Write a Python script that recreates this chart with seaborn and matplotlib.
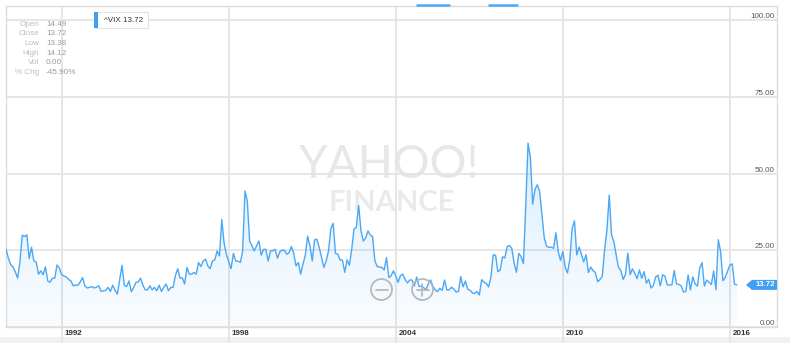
import numpy as np
import pandas as pd
import matplotlib
matplotlib.use("Agg")
import matplotlib.pyplot as plt
import matplotlib.transforms as mtransforms
from matplotlib.patches import Rectangle, Ellipse, Polygon
from matplotlib.lines import Line2D
import seaborn as sns

# ---------------- data (monthly closes of ^VIX) ----------------
vix_1990s = [
    25.36, 22.5, 20.3, 19.6, 18.0, 15.9, 21.0, 29.9, 29.5, 30.0, 22.3, 26.0,
    21.5, 21.2, 17.2, 18.3, 17.0, 19.6, 15.0, 14.6, 15.9, 15.9, 20.2, 19.2,
    17.0, 16.6, 16.3, 15.5, 15.0, 13.4, 13.7, 13.6, 14.7, 16.1, 13.4, 12.7,
    12.9, 13.2, 12.7, 13.0, 13.4, 11.6, 11.8, 11.9, 12.9, 11.6, 13.6, 12.0,
    10.7, 15.3, 20.1, 13.6, 13.2, 15.0, 11.5, 12.9, 14.5, 14.7, 15.9, 13.6,
    12.1, 12.1, 13.4, 12.1, 12.9, 11.8, 13.6, 11.6, 12.9, 14.0, 11.8, 12.9,
    12.9, 16.7, 19.0, 15.9, 16.0, 14.0, 19.4, 17.2, 17.2, 17.8, 17.2, 21.0,
    19.7, 21.5, 22.1, 19.9, 19.0, 21.5, 21.9, 24.8, 23.1, 35.0, 27.3, 23.7,
    21.2, 19.0, 24.0, 21.5, 21.5, 21.0, 24.8, 44.3, 41.0, 28.0, 26.4, 24.8,
    26.4, 28.0, 23.4, 25.3, 25.3, 21.5, 24.8, 24.8, 25.3, 22.4, 24.5, 25.0,
]
vix_2000s = [
    25.0, 23.7, 24.2, 26.2, 24.0, 19.9, 21.0, 17.2, 20.5, 23.4, 29.6, 26.4,
    21.5, 28.4, 28.6, 25.9, 22.6, 19.4, 21.5, 24.8, 32.0, 33.8, 24.0, 23.7,
    21.8, 21.8, 17.8, 21.9, 20.1, 25.3, 32.0, 32.4, 39.6, 31.3, 28.0, 29.0,
    31.3, 30.0, 29.4, 21.5, 19.7, 19.5, 19.4, 18.6, 22.6, 16.1, 16.7, 18.3,
    16.63, 14.55, 16.74, 17.19, 15.50, 14.34, 15.32, 15.29, 13.34, 16.27, 13.24, 13.29,
    12.82, 12.08, 14.02, 15.31, 13.29, 12.04, 11.57, 12.60, 11.92, 15.32, 12.06, 12.07,
    12.95, 12.34, 11.39, 11.59, 16.44, 13.08, 14.95, 12.31, 11.98, 11.10, 10.91, 11.56,
    10.42, 15.42, 14.64, 14.22, 13.05, 16.23, 23.52, 23.38, 18.00, 18.53, 22.87, 22.50,
    26.20, 26.54, 25.61, 20.79, 17.83, 23.95, 22.94, 20.65, 39.39, 59.89, 55.28, 40.00,
    44.84, 46.35, 44.14, 36.50, 28.92, 26.35, 25.92, 26.01, 25.61, 30.69, 24.51, 21.68,
]
vix_2010s = [
    24.62, 19.50, 17.59, 22.05, 32.07, 34.54, 23.50, 26.05, 23.70, 21.20, 23.54, 17.75,
    19.53, 18.35, 17.74, 14.75, 15.45, 16.52, 25.25, 31.62, 42.96, 29.96, 27.80, 23.40,
    19.44, 18.43, 15.50, 17.15, 24.06, 17.08, 18.93, 17.47, 15.73, 18.60, 15.87, 18.02,
    14.28, 15.51, 12.70, 13.52, 16.30, 16.86, 13.45, 17.01, 16.60, 13.75, 13.70, 13.72,
    18.41, 14.00, 13.88, 13.41, 11.40, 11.57, 16.95, 12.09, 16.31, 14.03, 13.33, 19.20,
    20.97, 13.34, 15.29, 14.55, 13.84, 18.23, 12.12, 28.43, 24.50, 15.07, 16.13, 18.21,
    20.20, 20.55, 13.95, 13.72,
]
start_month = "1990-01"
year_ticks = [1992, 1998, 2004, 2010, 2016]
value_ticks = [0, 25, 50, 75, 100]
ticker = "^VIX"
last_value = 13.72
quote_labels = ["Open", "Close", "Low", "High", "Vol", "% Chg"]
quote_values = ["14.49", "13.72", "13.38", "14.12", "0.00", "-45.90%"]

values = vix_1990s + vix_2000s + vix_2010s
dates = pd.date_range(start_month, periods=len(values), freq="MS")
df = pd.DataFrame({"year": dates.year + (dates.month - 1) / 12.0, "close": values})

# ---------------- style ----------------
sns.set_theme(style="white")
plt.rcParams["font.family"] = ["Liberation Sans", "DejaVu Sans"]

LINE = "#4aa8f5"
GRID = "#e4e4e4"
W, H = 790, 343
fig = plt.figure(figsize=(W / 100, H / 100), dpi=100)
fig.patch.set_facecolor("white")


def fx(px):
    return px / W


def fy(py):
    return 1 - py / H


AX_L, AX_R, AX_T, AX_B = 6, 777, 6, 327
ax = fig.add_axes([fx(AX_L), fy(AX_B), (AX_R - AX_L) / W, (AX_B - AX_T) / H])

x0 = 1990.0
x1 = 1992 + (AX_R - 62) / 27.83
y_top = (AX_B - AX_T) / 3.07
ax.set_xlim(x0, x1)
ax.set_ylim(0, y_top)

# grid + spines
ax.grid(True, color=GRID, linewidth=1.3, zorder=0)
ax.set_axisbelow(True)
for s in ax.spines.values():
    s.set_color("#dcdcdc")
    s.set_linewidth(1.0)

# watermark
ax.text(fx(389), fy(165), "YAHOO!", transform=fig.transFigure, fontsize=33,
        family=["Lato", "DejaVu Sans"], fontweight="normal", color="#e7e7e7",
        ha="center", va="center", zorder=0.5)
ax.text(fx(392), fy(203), "FINANCE", transform=fig.transFigure, fontsize=21,
        family=["Lato", "DejaVu Sans"], fontweight="bold", color="#eaeaea",
        ha="center", va="center", zorder=0.5)

# gradient area under the line
poly = ax.fill_between(df["year"], df["close"], 0, facecolor="none", linewidth=0, zorder=1)
vmax = float(df["close"].max())
n = 256
rgba = np.zeros((n, 1, 4))
rgba[:, 0, 0] = 0x4a / 255
rgba[:, 0, 1] = 0xa8 / 255
rgba[:, 0, 2] = 0xf5 / 255
rgba[:, 0, 3] = np.linspace(0.20, 0.03, n)
im = ax.imshow(rgba, extent=[df["year"].iloc[0], df["year"].iloc[-1], 0, vmax],
               aspect="auto", origin="upper", zorder=1, interpolation="bilinear")
im.set_clip_path(poly.get_paths()[0], transform=ax.transData)
ax.set_xlim(x0, x1)
ax.set_ylim(0, y_top)

sns.lineplot(data=df, x="year", y="close", color=LINE, linewidth=1.0, ax=ax, zorder=3)
ax.set_xlabel("")
ax.set_ylabel("")

# x ticks
ax.set_xticks(year_ticks)
ax.set_xticklabels([str(y) for y in year_ticks])
ax.tick_params(axis="x", direction="out", length=12, width=1.3, color=GRID,
               pad=-9.6, labelsize=5.8, labelcolor="#333333", bottom=True)
offset = mtransforms.ScaledTranslation(3 / 100, 0, fig.dpi_scale_trans)
for lab in ax.get_xticklabels():
    lab.set_ha("left")
    lab.set_fontweight("bold")
    lab.set_transform(lab.get_transform() + offset)

# y ticks on the right, inside
ax.yaxis.tick_right()
ax.set_yticks(value_ticks)
ax.set_yticklabels([f"{v:.2f}" for v in value_ticks])
ax.tick_params(axis="y", length=0, pad=-1.5, labelsize=5.8, labelcolor="#555555")
for lab in ax.get_yticklabels():
    lab.set_ha("right")
    lab.set_va("bottom")

# last value tag
ppu = (AX_B - AX_T) / y_top
half = 5.0 / ppu
tr = mtransforms.blended_transform_factory(fig.transFigure, ax.transData)
tag = Polygon([(fx(746), last_value), (fx(752), last_value + half),
               (fx(777), last_value + half), (fx(777), last_value - half),
               (fx(752), last_value - half)], closed=True, transform=tr,
              facecolor="#3fa0f2", edgecolor="none", zorder=6, clip_on=False)
ax.add_patch(tag)
ax.text(fx(765), last_value, f"{last_value:.2f}", transform=tr, color="white",
        fontsize=5.6, fontweight="bold", ha="center", va="center", zorder=7)

# zoom buttons
for cx, sign in [(381.5, "-"), (422.5, "+")]:
    fig.add_artist(Ellipse((fx(cx), fy(289.5)), 21 / W, 21 / H, transform=fig.transFigure,
                           facecolor="none", edgecolor="#b8b8b8", linewidth=1.3, zorder=8))
    fig.add_artist(Line2D([fx(cx - 6), fx(cx + 6)], [fy(289.5), fy(289.5)],
                          transform=fig.transFigure, color="#b8b8b8", lw=1.3, zorder=8))
    if sign == "+":
        fig.add_artist(Line2D([fx(cx), fx(cx)], [fy(283.5), fy(295.5)],
                              transform=fig.transFigure, color="#b8b8b8", lw=1.3, zorder=8))

# navigator marks on top edge
for a, b in [(417, 449), (489, 517)]:
    fig.add_artist(Line2D([fx(a), fx(b)], [fy(5), fy(5)], transform=fig.transFigure,
                          color=LINE, lw=1.8, zorder=8))

# bottom band
fig.add_artist(Rectangle((0, 0), 1, 6 / H, transform=fig.transFigure,
                         facecolor="#f1f1f1", edgecolor="none", zorder=-1))

# legend box
fig.add_artist(Rectangle((fx(95), fy(28)), 53 / W, 16 / H, transform=fig.transFigure,
                         facecolor="white", edgecolor="#e2e2e2", linewidth=0.8, zorder=9))
fig.add_artist(Rectangle((fx(94), fy(28)), 4 / W, 16 / H, transform=fig.transFigure,
                         facecolor="#3fa0f2", edgecolor="none", zorder=10))
fig.text(fx(104), fy(20), f"{ticker} {last_value:.2f}", fontsize=5.8, color="#333333",
         ha="left", va="center", zorder=10)

# quote panel
rows_y = [24, 33.8, 43.5, 53.3, 63, 72.7]
for lab, val, yy in zip(quote_labels, quote_values, rows_y):
    fig.text(fx(39), fy(yy), lab, fontsize=5.9, color="#bdbdbd", ha="right", va="center", zorder=10)
    fig.text(fx(46), fy(yy), val, fontsize=5.9, color="#9c9c9c", ha="left", va="center", zorder=10)

fig.savefig("out.png", dpi=100)
